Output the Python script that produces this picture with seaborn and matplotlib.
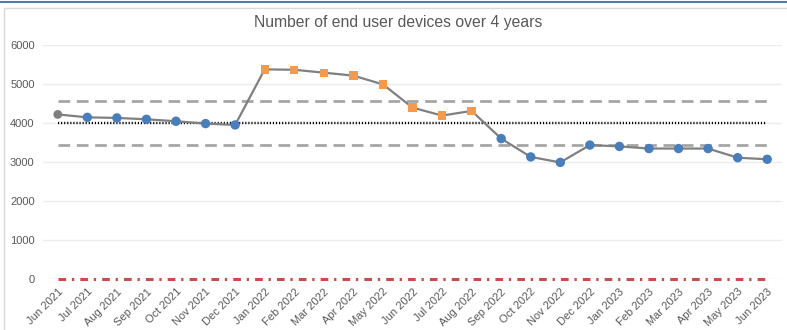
import matplotlib
matplotlib.use("Agg")
import matplotlib.pyplot as plt
from matplotlib.patches import Rectangle
from matplotlib.lines import Line2D
import pandas as pd
import seaborn as sns

months = ["Jun 2021", "Jul 2021", "Aug 2021", "Sep 2021", "Oct 2021", "Nov 2021",
          "Dec 2021", "Jan 2022", "Feb 2022", "Mar 2022", "Apr 2022", "May 2022",
          "Jun 2022", "Jul 2022", "Aug 2022", "Sep 2022", "Oct 2022", "Nov 2022",
          "Dec 2022", "Jan 2023", "Feb 2023", "Mar 2023", "Apr 2023", "May 2023",
          "Jun 2023"]
devices = [4220, 4145, 4130, 4095, 4045, 3985, 3950, 5375, 5365, 5290, 5215, 4990,
           4395, 4190, 4310, 3600, 3130, 2990, 3435, 3400, 3345, 3345, 3345, 3110,
           3070]
groups = (["baseline"] + ["normal"] * 6 + ["high"] * 8 + ["normal"] * 10)

mean_level = 4010
upper_limit = 4575
lower_limit = 3445
zero_level = 0
y_ticks = [0, 1000, 2000, 3000, 4000, 5000, 6000]

df = pd.DataFrame({"pos": range(len(months)), "month": months,
                   "devices": devices, "group": groups})

sns.set_style("white")
plt.rcParams["font.family"] = ["Liberation Sans", "DejaVu Sans"]

fig = plt.figure(figsize=(7.87, 3.30), dpi=100)
W, H = 787, 330

# outer chart frame and top accent line
fig.add_artist(Rectangle((4 / W, -0.1), 1.0, 1 - 8 / H + 0.1, transform=fig.transFigure,
                         facecolor="white", edgecolor="#d9d9d9", linewidth=1.0,
                         zorder=-10))
fig.add_artist(Line2D([0, 1], [1 - 1.5 / H, 1 - 1.5 / H], transform=fig.transFigure,
                      color="#4f7bb0", linewidth=1.5, zorder=-5))

ax = fig.add_axes([43 / W, 1 - 279 / H, (782 - 43) / W, (279 - 45) / H])
ax.set_facecolor("none")

for s in ax.spines.values():
    s.set_visible(False)

ax.set_ylim(0, 6000)
ax.set_xlim(-0.5, len(months) - 0.5)
ax.set_yticks(y_ticks)
ax.yaxis.grid(True, color="#ececec", linewidth=1.0)
ax.set_axisbelow(True)

last = len(months) - 1
ax.plot([0, last], [upper_limit] * 2, color="#a6a6a6", linewidth=2.0,
        dashes=(4.2, 2.4), zorder=2)
ax.plot([0, last], [lower_limit] * 2, color="#a6a6a6", linewidth=2.0,
        dashes=(4.2, 2.4), zorder=2)
ax.plot([0, last], [mean_level] * 2, color="black", linewidth=1.7,
        dashes=(0.5, 0.8), zorder=2)
ax.plot([0, last], [zero_level] * 2, color="#c0504d", linewidth=2.2,
        dashes=(2.5, 1.9, 0.75, 2.0), zorder=2, clip_on=False)

sns.lineplot(data=df, x="pos", y="devices", color="#808080", linewidth=1.6,
             ax=ax, zorder=3, legend=False)
sns.scatterplot(data=df, x="pos", y="devices", hue="group", style="group",
                size="group",
                palette={"baseline": "#7f7f7f", "normal": "#4a7ebb", "high": "#f59a4b"},
                markers={"baseline": "o", "normal": "o", "high": "s"},
                sizes={"baseline": 40, "normal": 46, "high": 36},
                edgecolor="none", ax=ax, zorder=4, legend=False)

ax.set_xticks(range(len(months)))
ax.set_xticklabels(months, rotation=45, ha="right", rotation_mode="anchor",
                   fontsize=8, color="#595959")
ax.tick_params(axis="x", length=0, pad=5.5)
ax.tick_params(axis="y", length=0, pad=6, labelsize=8, labelcolor="#595959")
ax.set_xlabel("")
ax.set_ylabel("")

fig.text(398 / W, 1 - 22 / H, "Number of end user devices over 4 years",
         ha="center", va="center", fontsize=11.3, color="#595959")

fig.savefig("out.png", dpi=100)
